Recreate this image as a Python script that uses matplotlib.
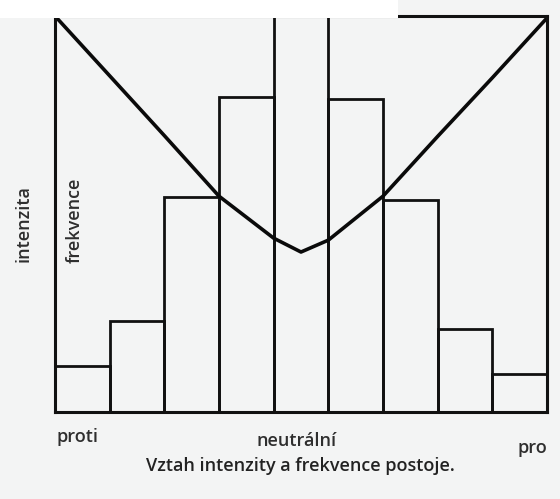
import matplotlib.pyplot as plt
from matplotlib.patches import Rectangle

# frequency of each attitude position (histogram, % of axis height)
positions = [0, 1, 2, 3, 4, 5, 6, 7, 8]
frekvence = [11.6, 23, 54.3, 79.5, 100, 79, 53.5, 21, 9.6]

# intensity curve
int_x = [0, 1, 2, 3, 4, 4.5, 5, 6, 7, 8, 9]
intenzita = [100, 84.9, 69.8, 54.5, 43.9, 40.4, 43.4, 54.5, 69.6, 84.4, 99.5]

labels = ['proti', 'neutrální', 'pro']

plt.rcParams['font.family'] = ['Open Sans', 'DejaVu Sans']

fig = plt.figure(figsize=(5.6, 4.99), dpi=100, facecolor='#f3f4f4')
ax = fig.add_axes([55/560, 1 - 412/499, 492/560, 396/499])
ax.set_facecolor('#f3f4f4')

ax.bar(positions, frekvence, width=1, align='edge', facecolor='none',
       edgecolor='#111111', linewidth=2.0, clip_on=False)
ax.plot(int_x, intenzita, color='#0a0a0a', linewidth=2.6, solid_joinstyle='round')

ax.set_xlim(0, 9)
ax.set_ylim(0, 100)
ax.set_xticks([])
ax.set_yticks([])
for s in ax.spines.values():
    s.set_linewidth(2.2)
    s.set_color('#111111')

tkw = dict(fontsize=13, fontweight='semibold', color='#2e2e2e')
ax.text(-0.58, 47.5, 'intenzita', rotation=90, ha='center', va='center', **tkw)
ax.text(0.37, 48.5, 'frekvence', rotation=90, ha='center', va='center', **tkw)

fig.text(77/560, 1 - 437/499, labels[0], ha='center', va='center', **tkw)
fig.text(297/560, 1 - 441/499, labels[1], ha='center', va='center', **tkw)
fig.text(532/560, 1 - 448/499, labels[2], ha='center', va='center', **tkw)
fig.text(300/560, 1 - 466/499, 'Vztah intenzity a frekvence postoje.', ha='center', va='center',
         fontsize=13, fontweight='semibold', color='#222222')

# white pasted strip over the top-left of the frame
fig.patches.append(Rectangle((0, 1 - 18/499), 398/560, 18/499, transform=fig.transFigure,
                             facecolor='white', edgecolor='none', zorder=10))

fig.savefig('out.png', dpi=100, facecolor=fig.get_facecolor())
